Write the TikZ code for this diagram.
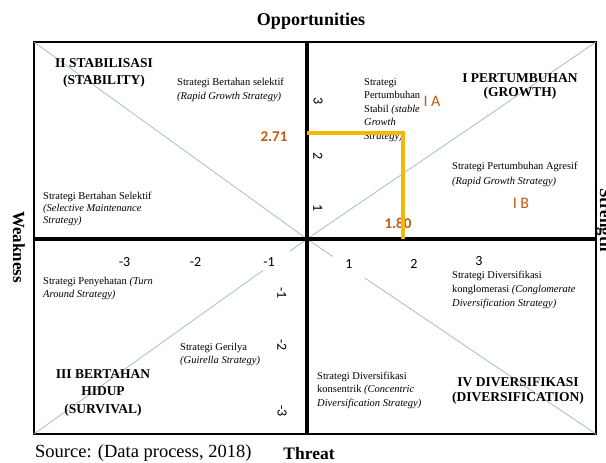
\documentclass[tikz,border=0pt]{standalone}
\usepackage{fontspec}
\setmainfont{Liberation Serif}
\newfontfamily\calfont{Carlito}
\usetikzlibrary{calc}
\definecolor{diag}{RGB}{160,190,215}
\definecolor{gold}{RGB}{242,185,10}
\definecolor{orng}{RGB}{197,90,17}
\begin{document}
\begin{tikzpicture}[x=1pt,y=-1pt,
  small/.style={font=\fontsize{10.5}{13.5}\selectfont, align=left, anchor=north west, inner sep=0pt},
  quad/.style={font=\fontsize{13.5}{17}\selectfont\bfseries, align=center, anchor=north, inner sep=0pt},
  tick/.style={font=\calfont\fontsize{14}{14}\selectfont, inner sep=0pt},
  vtick/.style={tick, rotate=-90},
  val/.style={font=\calfont\bfseries\fontsize{15}{15}\selectfont, text=orng, inner sep=0pt},
  axislbl/.style={font=\fontsize{17.5}{18}\selectfont\bfseries, inner sep=0pt, anchor=base},
  diagline/.style={draw=diag, line width=0.8pt},
  axisline/.style={draw=black, line width=3.2pt},
  goldline/.style={draw=gold, line width=4pt}]
\useasboundingbox (0,0) rectangle (606,463);
\fill[white] (0,0) rectangle (606,463);
% corners and centre
\coordinate (TL) at (34,42);
\coordinate (TR) at (596,42);
\coordinate (BL) at (34,434);
\coordinate (BR) at (596,434);
\coordinate (C) at (307,239);
\coordinate (T) at (307,42);
\coordinate (B) at (307,434);
\coordinate (L) at (34,239);
\coordinate (R) at (596,239);
% frame
\draw[line width=1.2pt] (TL) rectangle (BR);
% diagonals
\draw[diagline] (TL) -- (C);
\draw[diagline] (C) -- (TR);
\draw[diagline] (C) -- ($(C)!0.062!(BL)$);
\draw[diagline] ($(C)!0.161!(BL)$) -- (BL);
\draw[diagline] (C) -- ($(C)!0.09!(BR)$);
\draw[diagline] ($(C)!0.2!(BR)$) -- (BR);
% axes
\draw[axisline] (T) -- (B);
\draw[axisline, line width=3.6pt] (L) -- (R);
% titles
\node[axislbl, font=\fontsize{18}{18}\selectfont\bfseries] (opp) at (311,25) {Opportunities};
\node[axislbl] (thr) at (309,459) {Threat};
\node[axislbl, rotate=-90, font=\fontsize{17}{18}\selectfont\bfseries] (weak) at (13,247) {Weakness};
\node[axislbl, rotate=-90, font=\fontsize{17}{18}\selectfont\bfseries] (str) at (600,220) {Strength};
\node[anchor=base west, inner sep=0pt, font=\fontsize{18.5}{19}\selectfont] (src) at (35,457) {Source: (Data process, 2018)};
% quadrant titles
\node[quad] (q2) at (104,58) {II STABILISASI\\(STABILITY)};
\node[quad, font=\fontsize{13.5}{14.5}\selectfont\bfseries] (q1) at (520,73) {I PERTUMBUHAN\\(GROWTH)};
\node[quad, font=\fontsize{13.5}{17.5}\selectfont\bfseries] (q3) at (103,369) {III BERTAHAN\\HIDUP\\(SURVIVAL)};
\node[quad, font=\fontsize{13.5}{15}\selectfont\bfseries] (q4) at (518,377) {IV DIVERSIFIKASI\\(DIVERSIFICATION)};
% strategy texts
\node[small] (sbs) at (177,78) {Strategi Bertahan selektif\\\textit{(Rapid Growth Strategy)}};
\node[small, font=\fontsize{10.5}{12.2}\selectfont] (ssm) at (43,192) {Strategi Bertahan Selektif\\\textit{(Selective Maintenance}\\\textit{Strategy)}};
\node[small] (sps) at (364,78) {Strategi\\Pertumbuhan\\Stabil \textit{(stable}\\\textit{Growth}\\\textit{Strategy)}};
\node[small, font=\fontsize{10.5}{15}\selectfont] (spa) at (452,162) {Strategi Pertumbuhan Agresif\\\textit{(Rapid Growth Strategy)}};
\node[small, font=\fontsize{10.5}{12.7}\selectfont] (spen) at (43,277) {Strategi Penyehatan \textit{(Turn}\\\textit{Around Strategy)}};
\node[small, font=\fontsize{10.5}{12.7}\selectfont] (sger) at (180,343) {Strategi Gerilya\\\textit{(Guirella Strategy)}};
\node[small, font=\fontsize{10.5}{14}\selectfont] (sdk) at (452,271) {Strategi Diversifikasi\\konglomerasi \textit{(Conglomerate}\\\textit{Diversification Strategy)}};
\node[small, font=\fontsize{10.5}{13.3}\selectfont] (sdc) at (317,372) {Strategi Diversifikasi\\konsentrik \textit{(Concentric}\\\textit{Diversification Strategy)}};
% ticks
\node[tick] (hm3) at (124.5,262) {-3};
\node[tick] (hm2) at (195.5,262) {-2};
\node[tick] (hm1) at (269,262) {-1};
\node[tick] (hp1) at (349,264) {1};
\node[tick] (hp2) at (414,264) {2};
\node[tick] (hp3) at (479,261.5) {3};
\node[vtick] (vp3) at (318,101) {3};
\node[vtick] (vp2) at (318,156) {2};
\node[vtick] (vp1) at (318,208) {1};
\node[vtick] (vm1) at (282,293) {-1};
\node[vtick] (vm2) at (282,345) {-2};
\node[vtick] (vm3) at (282,411) {-3};
% values
\node[val] (v271) at (274,137) {2.71};
\node[val] (v180) at (398,223) {1.80};
\node[val, font=\calfont\fontsize{16}{16}\selectfont] (ia) at (432,101) {I A};
\node[val, font=\calfont\fontsize{16}{16}\selectfont] (ib) at (521,203) {I B};
% gold position lines
\coordinate (g0) at (307,133);
\coordinate (g1) at (403,133);
\coordinate (g2) at (403,239);
\draw[goldline] (g0) -- (g1) -- (g2);
\end{tikzpicture}
\end{document}
